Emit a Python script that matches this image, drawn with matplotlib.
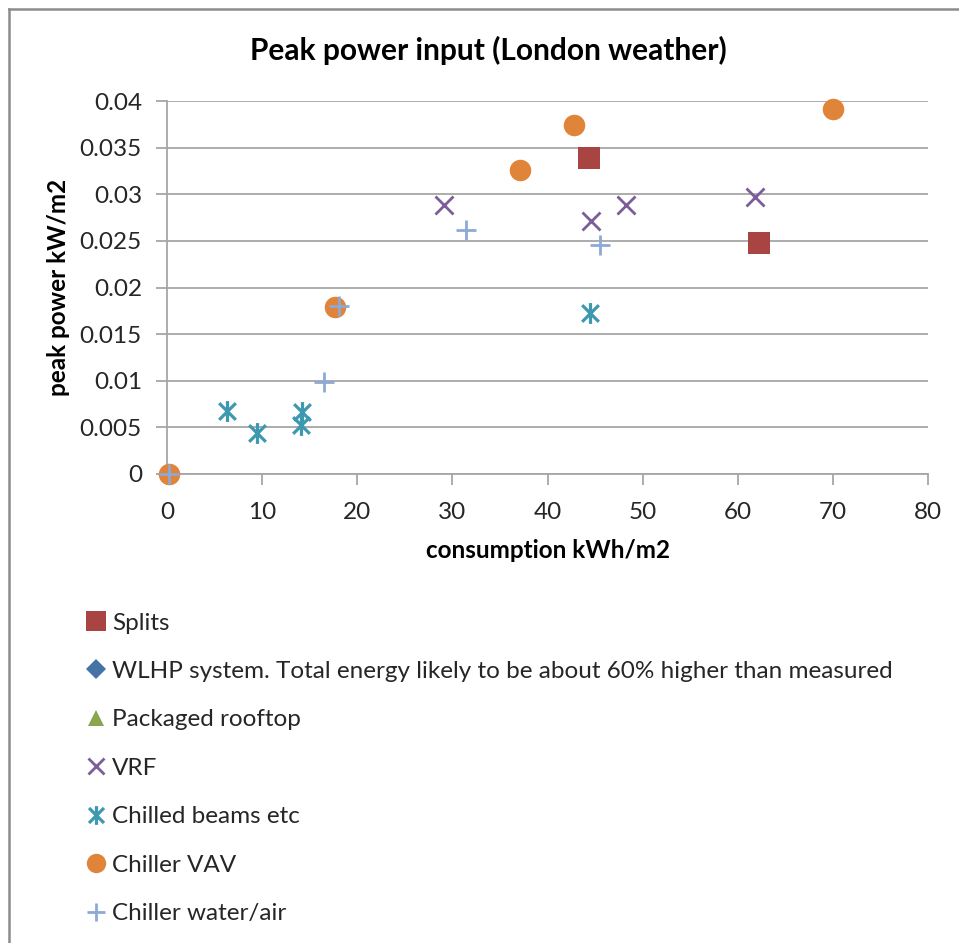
import matplotlib
matplotlib.use('Agg')
import matplotlib.pyplot as plt
from matplotlib.path import Path
from matplotlib.lines import Line2D

# ---- data ----
series_names = ["Splits",
                "WLHP system. Total energy likely to be about 60% higher than measured",
                "Packaged rooftop", "VRF", "Chilled beams etc", "Chiller VAV",
                "Chiller water/air"]
splits_x = [44.4, 62.2]
splits_y = [0.0339, 0.02475]
wlhp_x = []
wlhp_y = []
rooftop_x = []
rooftop_y = []
vrf_x = [29.1, 44.6, 48.2, 61.8]
vrf_y = [0.0289, 0.0271, 0.0289, 0.02975]
beams_x = [6.3, 9.5, 14.2, 14.1, 44.5]
beams_y = [0.0068, 0.0044, 0.0066, 0.0053, 0.01725]
vav_x = [0.2, 17.7, 37.1, 42.8, 70.0]
vav_y = [0.0, 0.0179, 0.0326, 0.0374, 0.0391]
wa_x = [0.2, 16.5, 18.1, 31.4, 45.5]
wa_y = [0.0, 0.0099, 0.0180, 0.0262, 0.0246]
x_ticks = [0, 10, 20, 30, 40, 50, 60, 70, 80]
y_ticks = [0, 0.005, 0.01, 0.015, 0.02, 0.025, 0.03, 0.035, 0.04]
y_tick_labels = ["0", "0.005", "0.01", "0.015", "0.02", "0.025", "0.03", "0.035", "0.04"]

plt.rcParams['font.family'] = ['Lato', 'DejaVu Sans']

W, H = 959, 943
fig = plt.figure(figsize=(W / 100, H / 100), dpi=100)
fig.patch.set_facecolor('white')

# axes rectangle in pixels
L, R, T, B = 167, 928, 101, 474
ax = fig.add_axes([L / W, (H - B) / H, (R - L) / W, (B - T) / H])

grid_col = '#A6A6A6'
text_col = '#262626'
FS = 17.5

# custom asterisk marker (vertical bar + X)
ast = Path([(0, -1), (0, 1), (-0.8, -0.8), (0.8, 0.8), (-0.8, 0.8), (0.8, -0.8)],
           [Path.MOVETO, Path.LINETO, Path.MOVETO, Path.LINETO, Path.MOVETO, Path.LINETO])

styles = [
    dict(marker='s', color='#A84442', ms=15.5, mew=0),
    dict(marker='D', color='#4572A7', ms=11, mew=0),
    dict(marker='^', color='#89A54E', ms=13, mew=0),
    dict(marker='x', color='#7B5D99', ms=13.5, mew=2.0),
    dict(marker=ast, color='#3D98B0', ms=15, mew=2.3),
    dict(marker='o', color='#E0843A', ms=15.5, mew=0),
    dict(marker='+', color='#8DA9D6', ms=14, mew=2.0),
]
xs = [splits_x, wlhp_x, rooftop_x, vrf_x, beams_x, vav_x, wa_x]
ys = [splits_y, wlhp_y, rooftop_y, vrf_y, beams_y, vav_y, wa_y]

handles = []
for name, x, y, st in zip(series_names, xs, ys, styles):
    ax.plot(x, y, linestyle='none', marker=st['marker'], color=st['color'],
            markersize=st['ms'], markeredgewidth=st['mew'], clip_on=False, zorder=3)
    handles.append(Line2D([], [], linestyle='none', marker=st['marker'], color=st['color'],
                          markersize=st['ms'] * 0.9, markeredgewidth=st['mew'],
                          label=name))

ax.set_xlim(0, 80)
ax.set_ylim(0, 0.04)
ax.set_xticks(x_ticks)
ax.set_yticks(y_ticks)
ax.set_yticklabels(y_tick_labels)
ax.grid(axis='y', color=grid_col, linewidth=1.3)
ax.set_axisbelow(True)
for s in ['top', 'right']:
    ax.spines[s].set_visible(False)
for s in ['left', 'bottom']:
    ax.spines[s].set_color(grid_col)
    ax.spines[s].set_linewidth(1.3)
ax.tick_params(axis='both', direction='out', length=8, width=1.3, color=grid_col,
               labelsize=FS, labelcolor=text_col)
ax.tick_params(axis='x', pad=12)
ax.tick_params(axis='y', pad=10)

ax.set_xlabel('consumption kWh/m2', fontsize=FS, fontweight='bold', color='black', labelpad=12)
ax.set_ylabel('peak power kW/m2', fontsize=FS, fontweight='bold', color='black')
ax.yaxis.set_label_coords((70 - L) / (R - L), 0.5)

fig.text(488 / W, 1 - 50 / H, 'Peak power input (London weather)', ha='center', va='center',
         fontsize=21.5, fontweight='bold', color='black')

leg = fig.legend(handles=handles, loc='upper left', bbox_to_anchor=(84 / W, 1 - 612.5 / H),
                 frameon=False, fontsize=FS, labelspacing=1.13, handlelength=1.0,
                 handletextpad=0.15, borderaxespad=0, borderpad=0, labelcolor=text_col)

# outer chart border (left and top visible)
fig.add_artist(Line2D([9 / W, 9 / W], [0, 1 - 9 / H], transform=fig.transFigure,
                      color='#8C8C8C', linewidth=1.8))
fig.add_artist(Line2D([9 / W, 1], [1 - 9 / H, 1 - 9 / H], transform=fig.transFigure,
                      color='#8C8C8C', linewidth=1.8))

fig.savefig('out.png', dpi=100)
